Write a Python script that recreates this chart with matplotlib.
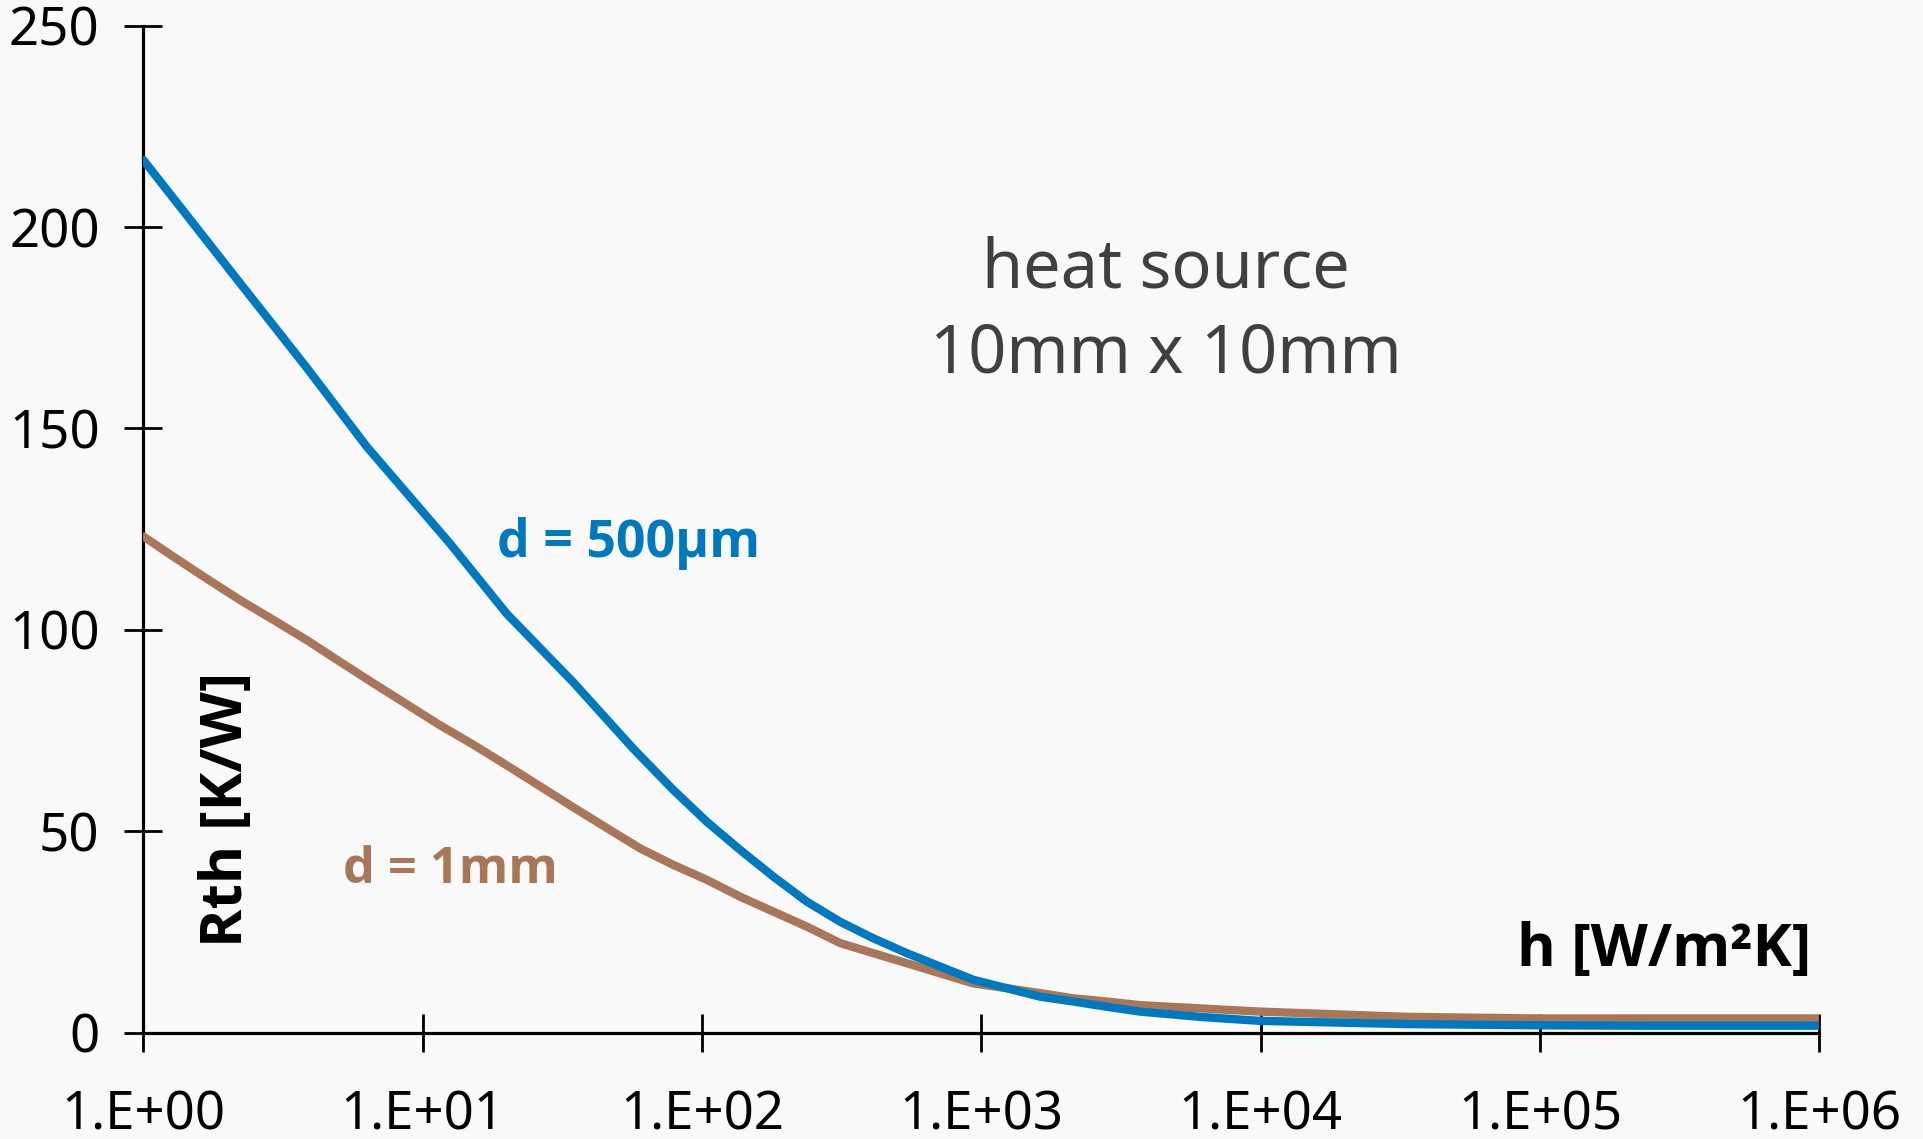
import matplotlib
matplotlib.use("Agg")
import matplotlib.pyplot as plt
import matplotlib.font_manager as fm
from matplotlib.ticker import FixedLocator, FixedFormatter, NullLocator

# ---- data ----
h_blue = [1, 2.21, 3.85, 6.30, 12.5, 20, 34.6, 56.8, 78.9, 104, 137, 180, 237, 312,
          410, 541, 711, 935, 1233, 1622, 2133, 2812, 3698, 6026, 9931, 33340,
          97270, 228000, 1000000]
rth_500um = [216.6, 186.2, 165.0, 145.5, 121.5, 104.0, 87.0, 70.5, 60.3, 52.4, 45.4,
             38.8, 32.6, 27.6, 23.5, 19.8, 16.5, 13.2, 11.1, 9.0, 7.8, 6.5, 5.3, 4.0,
             3.0, 2.2, 1.9, 1.8, 1.8]

h_brown = [1, 1.28, 1.68, 2.22, 2.92, 3.84, 5.06, 6.65, 8.75, 11.5, 15.2, 20, 26.3,
           34.6, 45.5, 60, 78.9, 104, 137, 180, 237, 312, 410, 541, 711, 935, 1233,
           1622, 2133, 2812, 3698, 9931, 33340, 97270, 1000000]
rth_1mm = [123.2, 118.2, 112.8, 107.4, 102.5, 97.5, 92.1, 86.8, 81.6, 76.4, 71.5,
           66.4, 61.2, 56.0, 50.9, 45.8, 41.7, 38.0, 33.8, 30.1, 26.4, 22.3, 19.8,
           17.3, 14.8, 12.3, 11.1, 9.9, 8.6, 7.8, 6.9, 5.3, 4.0, 3.6, 3.6]

x_ticks = [1, 10, 100, 1000, 10000, 100000, 1000000]
x_tick_labels = ["1.E+00", "1.E+01", "1.E+02", "1.E+03", "1.E+04", "1.E+05", "1.E+06"]
y_ticks = [0, 50, 100, 150, 200, 250]
y_tick_labels = ["0", "50", "100", "150", "200", "250"]

label_500 = "d = 500µm"
label_1mm = "d = 1mm"
title_lines = ["heat source", "10mm x 10mm"]
ylabel = "Rth [K/W]"
xlabel = "h [W/m²K]"

# ---- style ----
plt.rcParams["font.family"] = ["Noto Sans", "DejaVu Sans"]


def _weight(w):
    if isinstance(w, str):
        return fm.weight_dict.get(w, 400)
    return int(w)


def pick_bold_family():
    for fam in ["Noto Sans", "Open Sans", "Lato", "Roboto"]:
        for f in fm.fontManager.ttflist:
            if f.name == fam and f.style == "normal" and _weight(f.weight) >= 700:
                return fam
    return "DejaVu Sans"


BOLD_FAM = [pick_bold_family(), "DejaVu Sans"]

BLUE = "#0078BD"
BROWN = "#A8775A"
BG = "#F9F9F9"

fig = plt.figure(figsize=(19.23, 11.39), dpi=100, facecolor=BG)
ax = fig.add_axes([0.0746, 0.0931, 0.8715, 0.8845], facecolor=BG)

ax.plot(h_brown, rth_1mm, color=BROWN, lw=6, solid_capstyle="round",
        solid_joinstyle="round", zorder=3)
ax.plot(h_blue, rth_500um, color=BLUE, lw=6, solid_capstyle="round",
        solid_joinstyle="round", zorder=4)

ax.set_xscale("log")
ax.set_xlim(1, 1e6)
ax.set_ylim(0, 250)
ax.xaxis.set_major_locator(FixedLocator(x_ticks))
ax.xaxis.set_major_formatter(FixedFormatter(x_tick_labels))
ax.xaxis.set_minor_locator(NullLocator())
ax.yaxis.set_major_locator(FixedLocator(y_ticks))
ax.yaxis.set_major_formatter(FixedFormatter(y_tick_labels))

for s in ["top", "right"]:
    ax.spines[s].set_visible(False)
for s in ["left", "bottom"]:
    ax.spines[s].set_linewidth(2.3)
    ax.spines[s].set_color("black")

ax.tick_params(axis="both", which="major", direction="inout", length=27, width=2.0,
               colors="black", labelsize=38)
ax.tick_params(axis="y", pad=18)
ax.tick_params(axis="x", pad=27)

# annotations
t500 = ax.text(0.211, 0.4725, label_500, transform=ax.transAxes, color=BLUE,
               fontsize=36, fontweight="bold", family=BOLD_FAM,
               ha="left", va="baseline")
t1mm = ax.text(0.119, 0.1489, label_1mm, transform=ax.transAxes, color=BROWN,
               fontsize=35, fontweight="bold", family=BOLD_FAM,
               ha="left", va="baseline")
ax.text(0.610, 0.7395, title_lines[0], transform=ax.transAxes, color="#404040",
        fontsize=48, ha="center", va="baseline")
ax.text(0.610, 0.656, title_lines[1], transform=ax.transAxes, color="#404040",
        fontsize=48, ha="center", va="baseline")
tyl = ax.text(0.0588, 0.0854, ylabel, transform=ax.transAxes, color="black",
              fontsize=41, fontweight="bold", family=BOLD_FAM, rotation=90,
              rotation_mode="anchor", ha="left", va="baseline")
txl = ax.text(0.995, 0.0665, xlabel, transform=ax.transAxes, color="black",
              fontsize=41, fontweight="bold", family=BOLD_FAM,
              ha="right", va="baseline")

# fit bold labels to the extents measured on the reference (pixels)
fig.canvas.draw()
renderer = fig.canvas.get_renderer()
for t, target, vertical in [(t500, 263, False), (t1mm, 215, False),
                            (tyl, 275, True), (txl, 294, False)]:
    bb = t.get_window_extent(renderer)
    cur = bb.height if vertical else bb.width
    if cur > 0:
        t.set_fontsize(t.get_fontsize() * target / cur)

fig.savefig("out.png", dpi=100, facecolor=BG)
